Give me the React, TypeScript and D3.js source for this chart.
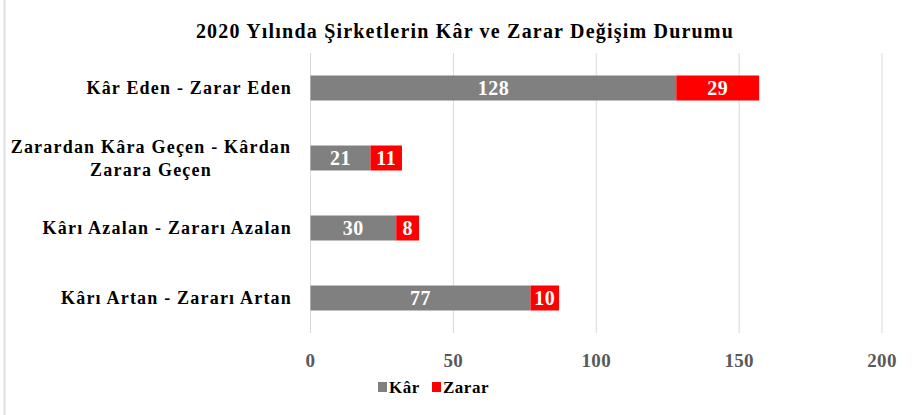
import React from "react";
import * as d3 from "d3";

const categories = [
  "Kâr Eden - Zarar Eden",
  "Zarardan Kâra Geçen - Kârdan Zarara Geçen",
  "Kârı Azalan - Zararı Azalan",
  "Kârı Artan - Zararı Artan",
];
const categoryLines = [
  ["Kâr Eden - Zarar Eden"],
  ["Zarardan Kâra Geçen - Kârdan", "Zarara Geçen"],
  ["Kârı Azalan - Zararı Azalan"],
  ["Kârı Artan - Zararı Artan"],
];
const karValues = [128, 21, 30, 77];
const zararValues = [29, 11, 8, 10];
const xTicks = [0, 50, 100, 150, 200];
const seriesNames = ["Kâr", "Zarar"];
const seriesColors = ["#808080", "#ff0000"];

const W = 921;
const H = 415;
const FONT = "Liberation Serif";

export default function App() {
  const x = d3.scaleLinear().domain([0, 200]).range([310.5, 882]);
  const p = 45 / 70;
  const y = d3.scaleBand<string>().domain(categories).range([53, 333]).paddingInner(p).paddingOuter(p / 2);
  const bw = y.bandwidth();
  const ts = (size: number, ls = 0) => ({ fontFamily: FONT, fontSize: size, fontWeight: 700, letterSpacing: ls });

  return (
    <svg width={W} height={H} style={{ position: "absolute", left: 0, top: 0, background: "#fff" }}>
      <rect x={0} y={0} width={W} height={H} fill="#fff" />
      <line x1={4.5} x2={4.5} y1={0} y2={415} stroke="#e0e0e0" strokeWidth={2} />
      <text x={465} y={38} textAnchor="middle" fill="#000" style={ts(20, 1.2)}>
        2020 Yılında Şirketlerin Kâr ve Zarar Değişim Durumu
      </text>
      {xTicks.map((t) => (
        <g key={t}>
          <line x1={x(t)} x2={x(t)} y1={53} y2={333} stroke="#d9d9d9" strokeWidth={1} />
          <text x={x(t)} y={367} textAnchor="middle" fill="#595959" style={ts(19, 0.3)}>
            {t}
          </text>
        </g>
      ))}
      {categories.map((c, i) => {
        const yc = (y(c) as number) + bw / 2;
        const k = karValues[i];
        const z = zararValues[i];
        const lines = categoryLines[i];
        const lh = 23;
        return (
          <g key={c}>
            <rect x={x(0)} y={y(c)} width={x(k) - x(0)} height={bw} fill={seriesColors[0]} />
            <rect x={x(k)} y={y(c)} width={x(k + z) - x(k)} height={bw} fill={seriesColors[1]} />
            <text x={(x(0) + x(k)) / 2} y={yc + 7} textAnchor="middle" fill="#fff" style={ts(20, 0.5)}>
              {k}
            </text>
            <text x={(x(k) + x(k + z)) / 2} y={yc + 7} textAnchor="middle" fill="#fff" style={ts(20, 0.5)}>
              {z}
            </text>
            {lines.length === 1 ? (
              <text x={292} y={yc + 6} textAnchor="end" fill="#000" style={ts(18, 1.2)}>
                {lines[0]}
              </text>
            ) : (
              lines.map((l, j) => (
                <text
                  key={j}
                  x={151}
                  y={yc + 6 + (j - (lines.length - 1) / 2) * lh}
                  textAnchor="middle"
                  fill="#000"
                  style={ts(18, 1.2)}
                >
                  {l}
                </text>
              ))
            )}
          </g>
        );
      })}
      {seriesNames.map((s, i) => {
        const lx = i === 0 ? 378 : 432;
        return (
          <g key={s}>
            <rect x={lx} y={382} width={9} height={10} fill={seriesColors[i]} />
            <text x={lx + 11} y={393} fill="#000" style={ts(17, 0.5)}>
              {s}
            </text>
          </g>
        );
      })}
    </svg>
  );
}
